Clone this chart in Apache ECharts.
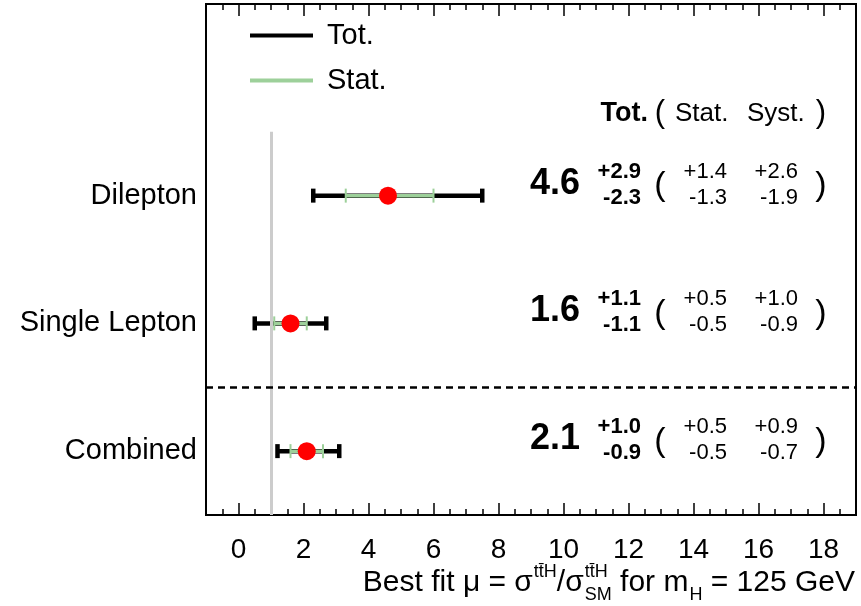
<!DOCTYPE html>
<html>
<head>
<meta charset="utf-8">
<script src="https://cdn.jsdelivr.net/npm/echarts@6/dist/echarts.min.js"></script>
<style>
  html, body { margin: 0; padding: 0; background: #fff; }
  #main { width: 861px; height: 606px; }
</style>
</head>
<body>
<div id="main"></div>
<script>
// channel results, best fit mu with total / stat / syst uncertainties
var categories = ['Dilepton', 'Single Lepton', 'Combined'];
var bestFit = [4.6, 1.6, 2.1];
var totUp = [2.9, 1.1, 1.0];
var totDown = [2.3, 1.1, 0.9];
var statUp = [1.4, 0.5, 0.5];
var statDown = [1.3, 0.5, 0.5];
var systUp = [2.6, 1.0, 0.9];
var systDown = [1.9, 0.9, 0.7];
var majorTicks = [0, 2, 4, 6, 8, 10, 12, 14, 16, 18];
var smValue = 1;

var FONT = '"Liberation Sans", Arial, sans-serif';
var GREEN = '#9dd09a';

// y position of each row (top row first)
function rowY(i) { return categories.length - i - 0.5; }

var totData = categories.map(function (c, i) {
    return [bestFit[i] - totDown[i], bestFit[i] + totUp[i], rowY(i)];
});
var statData = categories.map(function (c, i) {
    return [bestFit[i] - statDown[i], bestFit[i] + statUp[i], rowY(i)];
});
var pointData = categories.map(function (c, i) { return [bestFit[i], rowY(i)]; });
var textData = categories.map(function (c, i) { return [rowY(i), i]; });

function errBar(color, lw, capW, capH) {
    return function (params, api) {
        var a = api.coord([api.value(0), api.value(2)]);
        var b = api.coord([api.value(1), api.value(2)]);
        var st = { stroke: color, lineWidth: lw };
        var cs = { stroke: color, lineWidth: capW };
        return {
            type: 'group',
            children: [
                { type: 'line', shape: { x1: a[0], y1: a[1], x2: b[0], y2: b[1] }, style: st },
                { type: 'line', shape: { x1: a[0], y1: a[1] - capH, x2: a[0], y2: a[1] + capH }, style: cs },
                { type: 'line', shape: { x1: b[0], y1: b[1] - capH, x2: b[0], y2: b[1] + capH }, style: cs }
            ]
        };
    };
}

function txt(s, x, y, align, font) {
    return { type: 'text', x: x, y: y,
        style: { text: s, font: font, fill: '#000', align: align, verticalAlign: 'middle' } };
}

function renderNumbers(params, api) {
    var i = api.value(1);
    var y = api.coord([0, api.value(0)])[1] + 2;
    var b22 = 'bold 22px ' + FONT, n22 = '22px ' + FONT;
    return {
        type: 'group',
        children: [
            txt(bestFit[i].toFixed(1), 580, y - 14, 'right', 'bold 36px ' + FONT),
            txt('+' + totUp[i].toFixed(1), 641, y - 26, 'right', b22),
            txt('-' + totDown[i].toFixed(1), 641, y, 'right', b22),
            txt('(', 660, y - 12, 'center', '34px ' + FONT),
            txt('+' + statUp[i].toFixed(1), 727, y - 26, 'right', n22),
            txt('-' + statDown[i].toFixed(1), 727, y, 'right', n22),
            txt('+' + systUp[i].toFixed(1), 798, y - 26, 'right', n22),
            txt('-' + systDown[i].toFixed(1), 798, y, 'right', n22),
            txt(')', 821, y - 12, 'center', '34px ' + FONT)
        ]
    };
}

// x-axis title with super/subscripts laid out piece by piece
function axisTitle() {
    var ctx = document.createElement('canvas').getContext('2d');
    var main = '30px ' + FONT, small = '18px ' + FONT;
    var parts = [
        { t: 'Best fit \u03bc = \u03c3' },
        { sup: 'tt\u0304H' },
        { t: '/\u03c3' },
        { sup: 'tt\u0304H', sub: 'SM' },
        { t: ' for m' },
        { sub: 'H' },
        { t: ' = 125 GeV' }
    ];
    function w(s, f) { ctx.font = f; return ctx.measureText(s).width; }
    var total = 0;
    parts.forEach(function (p) {
        p.w = p.t ? w(p.t, main) : Math.max(p.sup ? w(p.sup, small) : 0, p.sub ? w(p.sub, small) : 0) + 1;
        total += p.w;
    });
    var x = 855 - total, yc = 583, out = [];
    parts.forEach(function (p) {
        if (p.t) out.push(txt(p.t, x, yc, 'left', main));
        if (p.sup) out.push(txt(p.sup, x + 1, yc - 11, 'left', small));
        if (p.sub) out.push(txt(p.sub, x + 1, yc + 12, 'left', small));
        x += p.w;
    });
    return out;
}

var header = [
    txt('Tot.', 648, 114, 'right', 'bold 27px ' + FONT),
    txt('(', 660, 113, 'center', '31px ' + FONT),
    txt('Stat.', 675, 114, 'left', '26px ' + FONT),
    txt('Syst.', 747, 114, 'left', '26px ' + FONT),
    txt(')', 821, 113, 'center', '31px ' + FONT)
];

function xAx(pos, major) {
    var ax = {
        type: 'value', position: pos, min: -1, max: 19,
        axisLine: { show: false }, splitLine: { show: false },
        axisTick: { show: true, inside: true, length: major ? 12 : 6, lineStyle: { color: '#000', width: 1.5 } },
        axisLabel: { show: false }
    };
    if (major) {
        ax.axisTick.customValues = majorTicks;
        if (pos === 'bottom') {
            ax.axisLabel = { show: true, customValues: majorTicks, fontSize: 28, color: '#000',
                fontFamily: FONT, margin: 21 };
        }
    } else {
        ax.interval = 0.5;
    }
    return ax;
}

var myChart = echarts.init(document.getElementById('main'));
myChart.setOption({
    animation: false,
    backgroundColor: '#fff',
    grid: { left: 206, right: 5, top: 4, bottom: 91, show: true, borderColor: '#000', borderWidth: 2 },
    legend: {
        orient: 'vertical', left: 250, top: 21, padding: 0, itemWidth: 63, itemHeight: 4, itemGap: 16,
        textStyle: { fontSize: 29, color: '#000', fontFamily: FONT, padding: [0, 0, 0, 9] },
        data: [{ name: 'Tot.', icon: 'rect' }, { name: 'Stat.', icon: 'rect' }],
        selectedMode: false
    },
    xAxis: [xAx('bottom', true), xAx('bottom', false), xAx('top', true), xAx('top', false)],
    yAxis: {
        type: 'value', min: 0, max: 4,
        axisLine: { show: false }, axisTick: { show: false }, splitLine: { show: false },
        axisLabel: {
            customValues: categories.map(function (c, i) { return rowY(i); }),
            formatter: function (v) { return categories[Math.round(categories.length - 0.5 - v)]; },
            fontSize: 29, color: '#000', fontFamily: FONT, margin: 9
        }
    },
    graphic: header.concat(axisTitle()),
    series: [
        {
            type: 'line', data: [], silent: true, z: 1,
            markLine: {
                silent: true, symbol: ['none', 'none'], label: { show: false },
                data: [
                    [{ coord: [smValue, 0], lineStyle: { color: '#cccccc', width: 3, type: 'solid' } },
                     { coord: [smValue, categories.length] }],
                    [{ coord: [-1, 1], lineStyle: { color: '#000', width: 2.5, type: [7, 5] } },
                     { coord: [19, 1] }]
                ]
            }
        },
        {
            name: 'Tot.', type: 'custom', z: 2, data: totData,
            encode: { x: [0, 1], y: 2 }, itemStyle: { color: '#000' },
            renderItem: errBar('#000', 4.5, 4.5, 7)
        },
        {
            name: 'Stat.', type: 'custom', z: 3, data: statData,
            encode: { x: [0, 1], y: 2 }, itemStyle: { color: GREEN },
            renderItem: errBar(GREEN, 3.5, 2, 7)
        },
        {
            type: 'scatter', z: 4, data: pointData, symbolSize: 18,
            itemStyle: { color: '#ff0000', opacity: 1 }
        },
        {
            type: 'custom', z: 5, data: textData, encode: { y: 0 },
            renderItem: renderNumbers
        }
    ]
});
</script>
</body>
</html>
